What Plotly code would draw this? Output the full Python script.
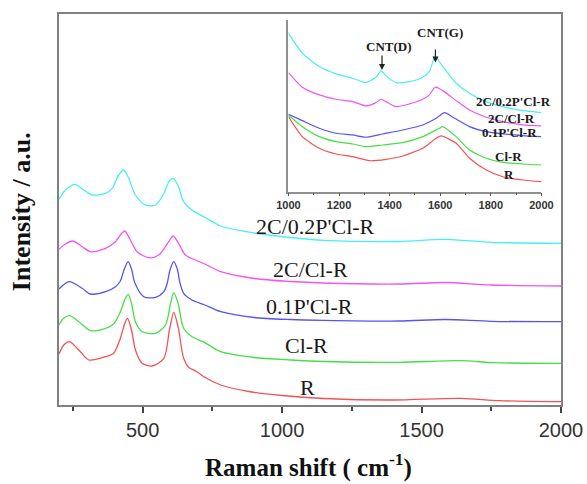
import plotly.graph_objects as go

# ---- main spectra (Raman shift in cm-1, intensity in arbitrary units) ----
shift_R = [200, 217, 238, 271, 307, 367, 396, 420, 436, 445.5, 460, 474, 498, 534, 576, 596,
           611.5, 627, 647, 665, 695, 723, 780, 880, 1000, 1150, 1400, 1640, 1780, 2000]
int_R = [51.0, 60.0, 63.3, 55.0, 45.0, 48.3, 51.7, 66.7, 81.7, 86.7, 75.0, 55.0, 41.7, 39.0,
         46.7, 75.0, 92.7, 78.3, 46.7, 37.7, 33.3, 27.7, 20.0, 13.5, 9.5, 6.5, 5.0, 6.7, 4.3, 3.3]

shift_Cl = [200, 217, 238, 271, 313, 367, 396, 420, 438, 448, 460, 474, 498, 546, 582, 600,
            611.5, 627, 647, 677, 723, 780, 900, 1030, 1150, 1420, 1640, 1760, 2000]
int_Cl = [80.0, 86.7, 89.3, 83.3, 74.3, 76.7, 81.0, 93.3, 106.7, 110.7, 101.7, 83.3, 73.3, 71.7,
          80.0, 101.7, 112.3, 101.7, 76.7, 68.3, 62.3, 53.3, 47.5, 45.0, 43.5, 42.7, 44.3, 42.3, 41.7]

shift_P = [200, 236, 283, 313, 367, 402.5, 420, 433, 448, 461, 472, 504, 546, 576, 588, 598,
           611.5, 625, 633, 647, 677, 723, 780, 900, 1030, 1150, 1420, 1585, 1750, 2000]
int_P = [116.0, 123.3, 116.7, 111.0, 113.3, 118.3, 124.0, 135.0, 143.3, 135.0, 122.0, 108.3,
         107.7, 113.3, 121.7, 135.0, 143.3, 135.0, 123.0, 111.7, 105.0, 100.0, 93.3, 87.5, 85.5,
         84.7, 84.0, 85.5, 83.7, 83.3]

shift_2C = [200, 223, 249.5, 283, 313, 367, 402.5, 426.5, 436, 456, 480, 522, 558, 593.5, 609,
            629, 653, 689, 723, 780, 900, 1030, 1150, 1420, 1585, 1750, 2000]
int_2C = [155.7, 161.0, 164.0, 158.3, 153.3, 156.7, 163.3, 172.3, 174.0, 165.0, 153.3, 147.3,
          150.0, 163.3, 169.0, 161.7, 150.0, 145.0, 141.0, 133.3, 126.5, 123.5, 122.0, 121.0,
          122.5, 120.0, 119.0]

shift_2CP = [200, 223, 257, 289, 319, 367, 391, 414, 432, 450, 474, 510, 546, 576, 594, 609,
             626, 647, 677, 723, 780, 900, 1030, 1150, 1420, 1585, 1750, 2000]
int_2CP = [205.7, 215.0, 220.7, 215.0, 210.0, 211.7, 216.7, 230.0, 235.0, 226.7, 210.0, 200.0,
           200.0, 211.7, 223.3, 226.7, 220.0, 203.3, 195.0, 187.7, 179.0, 172.0, 167.5, 164.7,
           163.5, 165.7, 162.7, 161.7]

# ---- inset: 1000-2000 cm-1 region ----
ins_shift_2CP = [1000, 1055, 1122, 1188, 1254, 1306, 1346, 1366, 1386, 1425, 1478, 1531, 1557,
                 1580, 1610, 1663, 1716, 1782, 1848, 1927, 2000]
ins_2CP = [158.2, 138.2, 124.8, 117.5, 113.2, 108.8, 114.2, 120.8, 115.5, 108.8, 109.8, 114.2,
           119.8, 134.8, 124.8, 108.2, 98.2, 89.8, 84.8, 80.8, 78.8]
ins_2C = [118.8, 104.2, 96.5, 92.2, 89.8, 85.5, 88.8, 92.2, 89.8, 84.8, 87.5, 92.2, 96.5, 104.2,
          100.8, 90.8, 81.5, 74.2, 69.8, 66.5, 65.5]

ins_shift_P = [1000, 1055, 1122, 1188, 1254, 1306, 1373, 1452, 1531, 1584, 1617, 1650, 1716,
               1782, 1848, 1927, 2000]
ins_P = [77.2, 70.8, 63.2, 58.2, 56.5, 54.2, 57.5, 61.5, 66.5, 73.2, 78.8, 74.2, 64.8, 59.8,
         57.5, 55.8, 54.8]

ins_shift_Cl = [1000, 1055, 1122, 1188, 1254, 1306, 1373, 1452, 1531, 1597, 1610, 1663, 1716,
                1782, 1848, 1927, 2000]
ins_Cl = [76.5, 64.8, 54.8, 49.8, 47.5, 44.8, 46.5, 48.8, 54.8, 63.2, 64.8, 54.8, 41.5, 33.2,
          29.2, 27.5, 26.5]

ins_shift_R = [1000, 1055, 1122, 1188, 1254, 1320, 1386, 1452, 1531, 1584, 1604, 1663, 1716,
               1782, 1848, 1927, 2000]
ins_R = [74.8, 54.8, 43.2, 37.5, 34.8, 30.8, 32.2, 35.5, 43.2, 53.2, 55.5, 48.2, 33.2, 21.5,
         14.8, 11.5, 9.8]

names = ["R", "Cl-R", "0.1P'Cl-R", "2C/Cl-R", "2C/0.2P'Cl-R"]
colors = ["#f25252", "#45e045", "#5555f2", "#f254f2", "#48eef2"]

main_sets = [(shift_R, int_R), (shift_Cl, int_Cl), (shift_P, int_P),
             (shift_2C, int_2C), (shift_2CP, int_2CP)]
inset_sets = [(ins_shift_R, ins_R), (ins_shift_Cl, ins_Cl), (ins_shift_P, ins_P),
              (ins_shift_2CP, ins_2C), (ins_shift_2CP, ins_2CP)]

# label positions (main: x, y ; inset: x2, y2)
main_label_x = [1091, 1086, 1098, 1100, 1119]
main_label_y = [17.5, 59.5, 98.5, 136, 179]
inset_label_x = [1870, 1869, 1872, 1883, 1889]
inset_label_y = [16.5, 34.5, 58.5, 73, 89.8]

# CNT band markers in the inset
cnt_names = ["CNT(D)", "CNT(G)"]
cnt_pos = [1370, 1581]
cnt_head = [121.5, 128.8]
cnt_tail = [137.5, 143.5]
cnt_text_x = [1396, 1601]
cnt_text_y = [144.8, 158.5]

SERIF = "Times New Roman, Liberation Serif, serif"
SANS = "Arial, Liberation Sans, sans-serif"

fig = go.Figure()
for (xs, ys), c, n in zip(main_sets, colors, names):
    fig.add_trace(go.Scatter(x=xs, y=ys, mode="lines", name=n,
                             line=dict(color=c, width=1.3, shape="spline", smoothing=0.8),
                             xaxis="x", yaxis="y", showlegend=False))
for (xs, ys), c, n in zip(inset_sets, colors, names):
    fig.add_trace(go.Scatter(x=xs, y=ys, mode="lines", name=n,
                             line=dict(color=c, width=1.2, shape="spline", smoothing=0.6),
                             xaxis="x2", yaxis="y2", showlegend=False))

annotations = []
for n, lx, ly in zip(names, main_label_x, main_label_y):
    annotations.append(dict(x=lx, y=ly, xref="x", yref="y", text=n, showarrow=False,
                            font=dict(family=SERIF, size=22, color="#1a1a1a")))
for n, lx, ly in zip(names, inset_label_x, inset_label_y):
    annotations.append(dict(x=lx, y=ly, xref="x2", yref="y2", text=n, showarrow=False,
                            font=dict(family=SERIF, size=13, color="#1a1a1a", weight="bold")))
for t, px, hy, ty, tx, tyy in zip(cnt_names, cnt_pos, cnt_head, cnt_tail, cnt_text_x, cnt_text_y):
    annotations.append(dict(x=px, y=hy, ax=px, ay=ty, xref="x2", yref="y2", axref="x2",
                            ayref="y2", text="", showarrow=True, arrowhead=2, arrowsize=1,
                            arrowwidth=1.2, arrowcolor="#222"))
    annotations.append(dict(x=tx, y=tyy, xref="x2", yref="y2", text=t, showarrow=False,
                            font=dict(family=SERIF, size=13, color="#1a1a1a", weight="bold")))

# axis titles
annotations.append(dict(x=0.498, y=-0.155, xref="paper", yref="paper", yanchor="middle",
                        text="Raman shift ( cm<sup>-1</sup>)", showarrow=False,
                        font=dict(family=SERIF, size=25, color="#111", weight="bold")))
annotations.append(dict(x=-0.106, y=0.494, xref="paper", yref="paper", textangle=-90,
                        text="Intensity / a.u.", showarrow=False,
                        font=dict(family=SERIF, size=26, color="#111", weight="bold")))

fig.update_layout(
    width=587, height=484,
    margin=dict(l=59, r=26, t=14, b=79),
    paper_bgcolor="white", plot_bgcolor="white",
    xaxis=dict(range=[200, 2000], domain=[0, 1], showgrid=False, zeroline=False,
               automargin=False,
               showline=True, mirror=True, linecolor="#808080", linewidth=2,
               tickvals=[500, 1000, 1500, 2000], ticks="outside", ticklen=6, tickwidth=1.5,
               tickcolor="#444", tickfont=dict(family=SANS, size=20, color="#333"),
               minor=dict(tickvals=[250, 750, 1250, 1750], ticks="outside", ticklen=4,
                          tickwidth=1.5, tickcolor="#444")),
    yaxis=dict(range=[0, 391], domain=[0, 1], showgrid=False, zeroline=False,
               automargin=False,
               showline=True, mirror=True, linecolor="#808080", linewidth=2,
               showticklabels=False, ticks=""),
    xaxis2=dict(range=[1000, 2000], domain=[0.457, 0.961], anchor="y2", showgrid=False,
                automargin=False,
                zeroline=False, showline=True, linecolor="#909090", linewidth=1.5,
                tickvals=[1000, 1200, 1400, 1600, 1800, 2000], ticks="outside", ticklen=3,
                tickcolor="#555", tickfont=dict(family=SANS, size=11, color="#333",
                                                weight="bold"),
                minor=dict(tickvals=[1100, 1300, 1500, 1700, 1900], ticks="outside",
                           ticklen=2, tickcolor="#555")),
    yaxis2=dict(range=[0, 171.5], domain=[0.546, 0.985], anchor="x2", showgrid=False,
                automargin=False,
                zeroline=False, showline=True, linecolor="#909090", linewidth=1.5,
                showticklabels=False, ticks=""),
    annotations=annotations,
)

fig.write_html("out.html")
